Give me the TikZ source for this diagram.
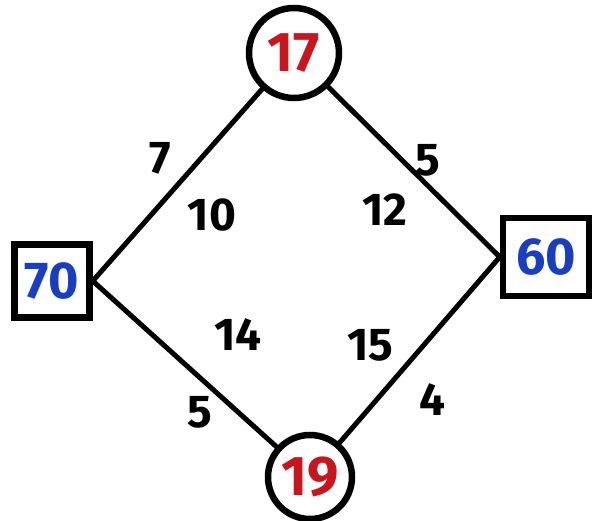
\documentclass[tikz,border=0pt]{standalone}
\usepackage{fontspec}
\setmainfont{Fira Sans}
\definecolor{hred}{RGB}{200,22,30}
\definecolor{hblue}{RGB}{26,62,192}
\begin{document}
\begin{tikzpicture}[x=1pt,y=-1pt,
  edge/.style={line width=5pt, line cap=round, black},
  circ/.style={circle, draw, line width=6.5pt, minimum size=90pt, inner sep=0pt, text=hred, font=\fontsize{56}{56}\selectfont\bfseries},
  sq/.style={rectangle, draw, line width=6.5pt, inner sep=0pt, text=hblue, font=\fontsize{52}{52}\selectfont\bfseries},
  wt/.style={font=\fontsize{46}{46}\selectfont\bfseries, text=black}]
\useasboundingbox (0,0) rectangle (598,521);
\node[circ] (t) at (294,53) {17};
\node[circ, minimum size=84pt] (b) at (310,477) {19};
\node[sq, minimum width=75pt, minimum height=73pt] (l) at (52,281) {70};
\node[sq, minimum width=86pt, minimum height=78pt] (r) at (546,257) {60};
\draw[edge] (t) -- (l.east);
\draw[edge] (t) -- (r.west);
\draw[edge] (l.east) -- (b);
\draw[edge] (r.west) -- (b);
\node[wt] (w1) at (160,158) {7};
\node[wt] (w2) at (212,215) {10};
\node[wt] (w3) at (428,160) {5};
\node[wt] (w4) at (385,210) {12};
\node[wt] (w5) at (238,335) {14};
\node[wt] (w6) at (200,412) {5};
\node[wt] (w7) at (370,345) {15};
\node[wt] (w8) at (432,400) {4};
\end{tikzpicture}
\end{document}
